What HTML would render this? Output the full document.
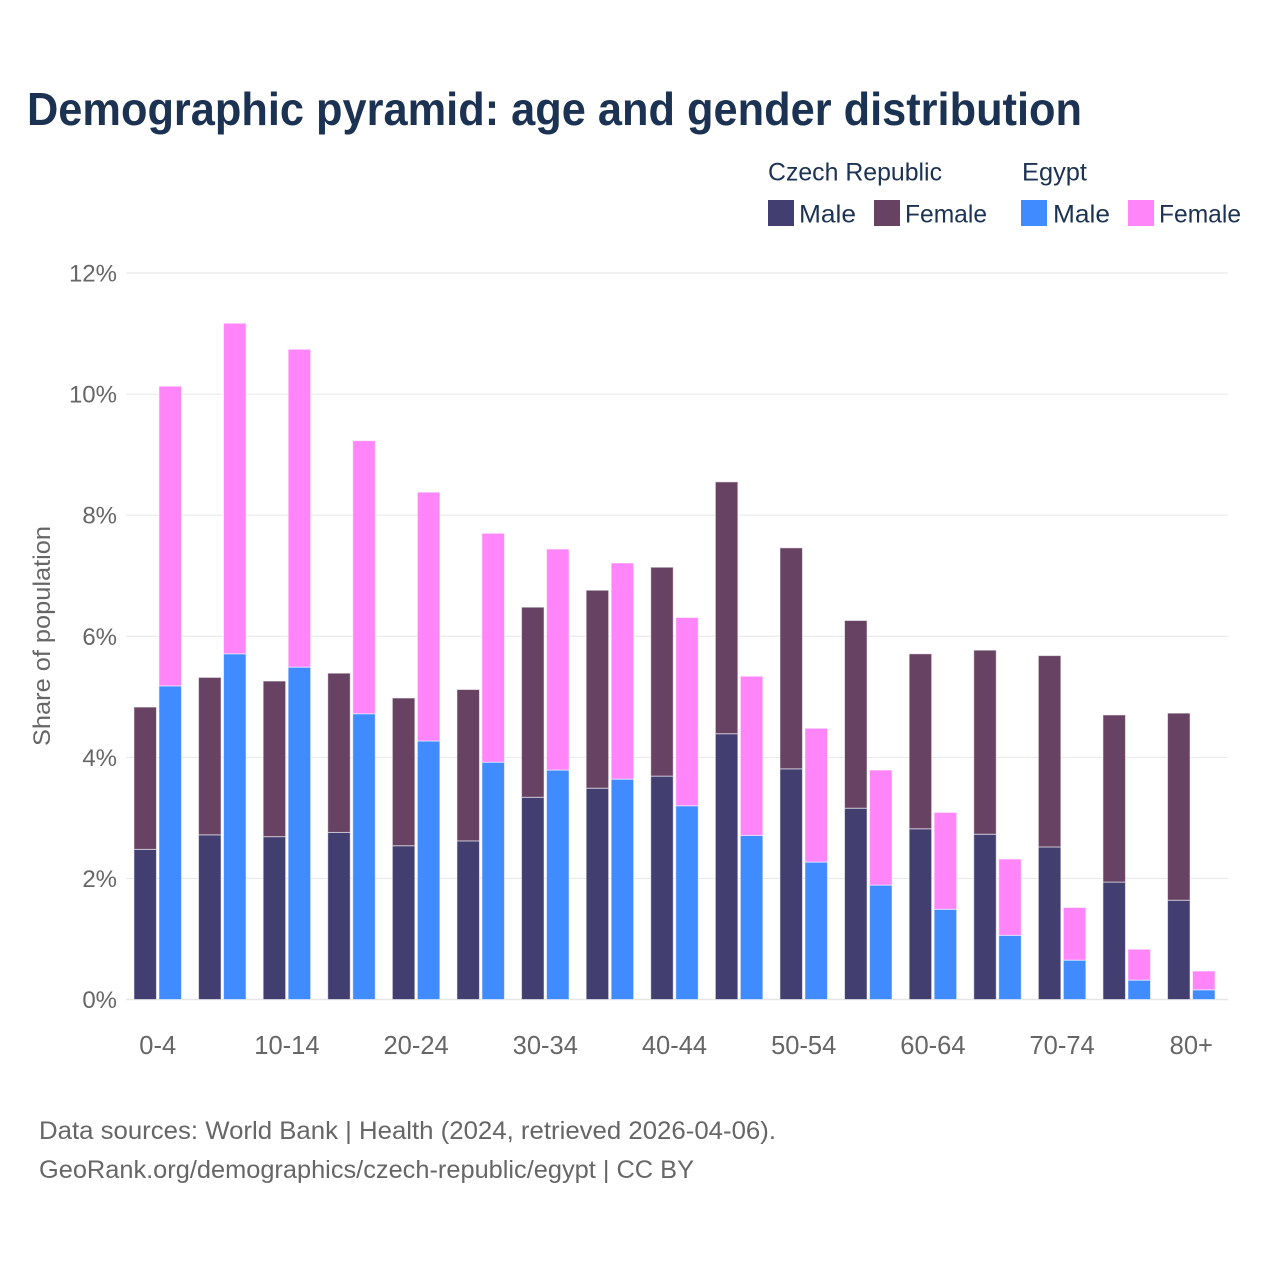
<!DOCTYPE html>
<html lang="en">
<head>
<meta charset="utf-8">
<title>Demographic pyramid: age and gender distribution</title>
<style>
html,body{margin:0;padding:0;background:#fff;}
svg{display:block;font-family:"Liberation Sans",sans-serif;}
</style>
</head>
<body>
<svg id="chart" width="1280" height="1280" viewBox="0 0 1280 1280" xmlns="http://www.w3.org/2000/svg">
  <rect x="0" y="0" width="1280" height="1280" fill="#ffffff"/>
  <text x="27" y="125" font-size="46" font-weight="700" fill="#1b3252" textLength="1055" lengthAdjust="spacingAndGlyphs">Demographic pyramid: age and gender distribution</text>

  <g font-size="25" fill="#1b3252">
    <text x="768" y="180.5" textLength="174" lengthAdjust="spacingAndGlyphs">Czech Republic</text>
    <text x="1022" y="180.5" textLength="65" lengthAdjust="spacingAndGlyphs">Egypt</text>
    <rect x="768" y="200" width="26" height="26" fill="#423f70"/>
    <text x="799" y="222.5" textLength="57" lengthAdjust="spacingAndGlyphs">Male</text>
    <rect x="874" y="200" width="26" height="26" fill="#674263"/>
    <text x="905" y="222.5" textLength="82" lengthAdjust="spacingAndGlyphs">Female</text>
    <rect x="1021" y="200" width="26" height="26" fill="#3f8bff"/>
    <text x="1053" y="222.5" textLength="57" lengthAdjust="spacingAndGlyphs">Male</text>
    <rect x="1128" y="200" width="26" height="26" fill="#ff85f9"/>
    <text x="1159" y="222.5" textLength="82" lengthAdjust="spacingAndGlyphs">Female</text>
  </g>

  <g id="grid"></g>
  <g id="yticks"></g>
  <g id="bars"></g>
  <g id="xticks"></g>

  <text transform="translate(50,636) rotate(-90)" text-anchor="middle" font-size="24" fill="#666666" textLength="220" lengthAdjust="spacingAndGlyphs">Share of population</text>

  <text x="39" y="1139" font-size="25" fill="#666666" textLength="737" lengthAdjust="spacingAndGlyphs">Data sources: World Bank | Health (2024, retrieved 2026-04-06).</text>
  <text x="39" y="1178" font-size="25" fill="#666666" textLength="655" lengthAdjust="spacingAndGlyphs">GeoRank.org/demographics/czech-republic/egypt | CC BY</text>
</svg>
<script>
var ageGroups = ['0-4','5-9','10-14','15-19','20-24','25-29','30-34','35-39','40-44','45-49','50-54','55-59','60-64','65-69','70-74','75-79','80+'];
var czechMale = [2.48,2.72,2.69,2.76,2.54,2.62,3.34,3.49,3.69,4.39,3.81,3.16,2.82,2.73,2.52,1.94,1.64];
var czechFemale = [2.35,2.60,2.57,2.63,2.44,2.50,3.14,3.27,3.45,4.16,3.65,3.10,2.89,3.04,3.16,2.76,3.09];
var egyptMale = [5.18,5.71,5.49,4.72,4.27,3.92,3.79,3.64,3.20,2.71,2.27,1.89,1.49,1.06,0.65,0.32,0.16];
var egyptFemale = [4.95,5.46,5.25,4.51,4.11,3.78,3.65,3.57,3.11,2.63,2.21,1.90,1.60,1.26,0.87,0.51,0.31];
var yTickValues = [0,2,4,6,8,10,12];
var xTickLabels = ['0-4','10-14','20-24','30-34','40-44','50-54','60-64','70-74','80+'];

var NS = 'http://www.w3.org/2000/svg';
var plotLeft = 126, plotRight = 1228;
var y0 = 999.5, y12 = 273;
var firstCenter = 157.7, groupStep = 64.6;
var barWidth = 22.5, barGap = 2.5;

function yScale(v) { return y0 - (v / 12) * (y0 - y12); }
function xCenter(label) { return firstCenter + ageGroups.indexOf(label) * groupStep; }

var gridLayer = document.getElementById('grid');
var yLayer = document.getElementById('yticks');
var xLayer = document.getElementById('xticks');
var barLayer = document.getElementById('bars');

yTickValues.forEach(function (v) {
  var line = document.createElementNS(NS, 'line');
  
  
  line.setAttribute('x1', plotLeft);
  line.setAttribute('x2', plotRight);
  line.setAttribute('y1', yScale(v));
  line.setAttribute('y2', yScale(v));
  line.setAttribute('stroke', '#e6e6e6');
  line.setAttribute('stroke-width', v === 0 ? 1.5 : 1);
  gridLayer.appendChild(line);

  var t = document.createElementNS(NS, 'text');
  
  
  t.setAttribute('x', 117);
  t.setAttribute('y', yScale(v) + 8.5);
  t.setAttribute('text-anchor', 'end');
  t.setAttribute('font-size', '24');
  t.setAttribute('fill', '#666666');
  t.textContent = v + '%';
  yLayer.appendChild(t);
});

xTickLabels.forEach(function (label) {
  var t = document.createElementNS(NS, 'text');
  
  
  t.setAttribute('x', xCenter(label));
  t.setAttribute('y', 1054);
  t.setAttribute('text-anchor', 'middle');
  t.setAttribute('font-size', '25.5');
  t.setAttribute('fill', '#666666');
  t.textContent = label;
  xLayer.appendChild(t);
});

function drawBar(x, base, value, fill, name) {
  var top = yScale(base + value);
  var r = document.createElementNS(NS, 'rect');
  
  
  r.setAttribute('x', x);
  r.setAttribute('y', top);
  r.setAttribute('width', barWidth);
  r.setAttribute('height', yScale(base) - top);
  r.setAttribute('fill', fill);
  r.setAttribute('stroke', 'rgba(255,255,255,0.55)');
  r.setAttribute('stroke-width', '1');
  barLayer.appendChild(r);
}

ageGroups.forEach(function (label, i) {
  var c = xCenter(label);
  var leftX = c - barGap / 2 - barWidth;
  var rightX = c + barGap / 2;
  drawBar(leftX, 0, czechMale[i], '#423f70', 'bar-czech-male');
  drawBar(leftX, czechMale[i], czechFemale[i], '#674263', 'bar-czech-female');
  drawBar(rightX, 0, egyptMale[i], '#3f8bff', 'bar-egypt-male');
  drawBar(rightX, egyptMale[i], egyptFemale[i], '#ff85f9', 'bar-egypt-female');
});
</script>
</body>
</html>
